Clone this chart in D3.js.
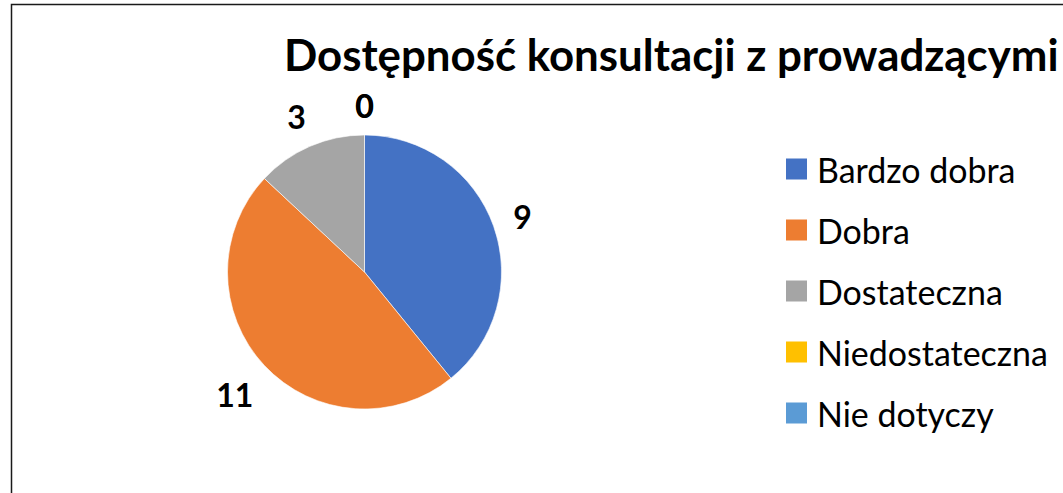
<!DOCTYPE html>
<html>
<head>
<meta charset="utf-8">
<script src="https://cdn.jsdelivr.net/npm/d3@7"></script>
<style>
  body { margin: 0; background: #fff; overflow: hidden; }
  svg { display: block; font-family: Lato, "Open Sans", sans-serif; }
</style>
</head>
<body>
<script>
// dane wykresu
var kategorie = ["Bardzo dobra", "Dobra", "Dostateczna", "Niedostateczna", "Nie dotyczy"]
var wartosci = [9, 11, 3, 0, 0]
var kolory = ["#4472C4", "#ED7D31", "#A5A5A5", "#FFC000", "#5B9BD5"]
var tytul = "Dostępność konsultacji z prowadzącymi"

var width = 1063
var height = 493

var svg = d3.select("body")
    .append("svg")
    .attr("width", width)
    .attr("height", height)

// ramka wykresu (wychodzi poza okno z prawej i na dole)
svg.append("rect")
    .attr("x", 11.5)
    .attr("y", 4.5)
    .attr("width", 1200)
    .attr("height", 600)
    .attr("fill", "none")
    .attr("stroke", "#1a1a1a")
    .attr("stroke-width", 1.5)

// tytul
var t = svg.append("text")
    .attr("x", 284)
    .attr("y", 71)
    .attr("font-weight", "bold")
    .attr("font-size", 100)
    .attr("fill", "#000")
    .text(tytul)
var tw = t.node().getComputedTextLength()
t.attr("font-size", 100 * 775 / tw)

// kolo
var cx = 364.5, cy = 272, r = 137

var pie = d3.pie().sort(null).value(d => d)
var luki = pie(wartosci)
var arc = d3.arc().innerRadius(0).outerRadius(r)

var g = svg.append("g").attr("transform", "translate(" + cx + "," + cy + ")")

g.selectAll("path")
    .data(luki)
    .enter()
    .append("path")
    .attr("d", arc)
    .attr("fill", (d, i) => kolory[i])
    .attr("stroke", "#fff")
    .attr("stroke-width", d => d.value > 0 ? 0.6 : 0)

// etykiety danych
var etykiety = g.selectAll("text.lab")
    .data(luki)
    .enter()
    .append("text")
    .attr("class", "lab")
    .attr("font-weight", "bold")
    .attr("font-size", 32)
    .attr("text-anchor", "middle")
    .attr("dominant-baseline", "central")
    .text(d => d.value)

etykiety.each(function(d) {
    var a = (d.startAngle + d.endAngle) / 2
    var s = Math.sin(a), c = Math.cos(a)
    var w = this.getComputedTextLength()
    var R = 153 + (w / 2 + 1) * Math.abs(s) + 15 * Math.abs(c)
    d3.select(this)
        .attr("x", R * s)
        .attr("y", -R * c + 1)
})

// legenda
var legenda = svg.append("g")
    .selectAll("g")
    .data(kategorie)
    .enter()
    .append("g")
    .attr("transform", (d, i) => "translate(786," + (169 + i * 61) + ")")

legenda.append("rect")
    .attr("x", 0)
    .attr("y", -10.5)
    .attr("width", 21)
    .attr("height", 21)
    .attr("fill", (d, i) => kolory[i])

var lt = legenda.append("text")
    .attr("x", 31)
    .attr("y", 0)
    .attr("dominant-baseline", "central")
    .attr("font-size", 100)
    .attr("fill", "#000")
    .text(d => d)

// dopasowanie rozmiaru do szerokosci "Niedostateczna"
var nw = lt.filter(d => d == "Niedostateczna").node().getComputedTextLength()
lt.attr("font-size", 100 * 231 / nw)
</script>
</body>
</html>
